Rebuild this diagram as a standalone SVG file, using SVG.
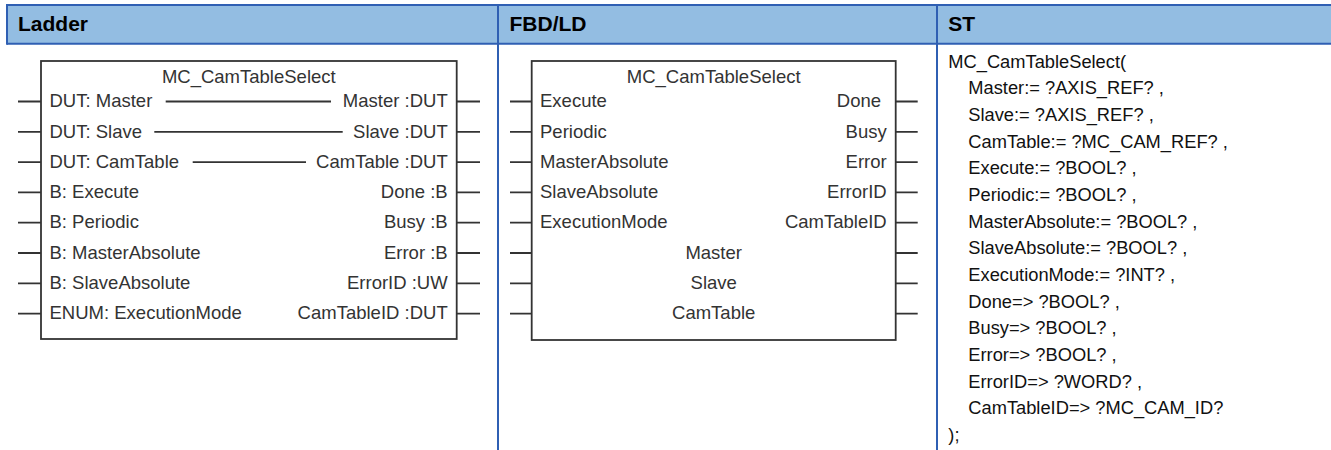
<svg xmlns="http://www.w3.org/2000/svg" width="1331" height="450" viewBox="0 0 1331 450">
<style>
.hdr{fill:#93bde2}
.bl{stroke:#2f5fb3;stroke-width:2;fill:none}
.ht{font-family:"Liberation Sans",Arial,sans-serif;font-weight:bold;font-size:21px;fill:#000}
.box{fill:#fff;stroke:#333;stroke-width:1.8}
.ln{stroke:#333;stroke-width:1.8;fill:none}
.t{font-family:"Liberation Sans",Arial,sans-serif;font-size:18.5px;fill:#333}
.r{text-anchor:end}
.c{text-anchor:middle}
.st{font-family:"Liberation Sans",Arial,sans-serif;font-size:18.3px;fill:#111}
</style>
<rect width="1331" height="450" fill="#fff"/>
<g id="table">
<rect class="hdr" x="7" y="5" width="1324" height="38.7"/>
<line class="bl" x1="7" y1="5" x2="1331" y2="5"/>
<line class="bl" x1="7" y1="43.7" x2="1331" y2="43.7"/>
<line class="bl" x1="7" y1="4" x2="7" y2="44.7"/>
<line class="bl" x1="498" y1="4" x2="498" y2="450"/>
<line class="bl" x1="937" y1="4" x2="937" y2="450"/>
<text class="ht" x="18" y="30.5">Ladder</text>
<text class="ht" x="509.5" y="30.5">FBD/LD</text>
<text class="ht" x="948.3" y="30.5">ST</text>
</g>
<g id="ladder-block">
<rect class="box" x="41" y="61" width="415.7" height="278"/>
<text class="t c" x="248.8" y="83">MC_CamTableSelect</text>
<text class="t" x="49.5" y="107.2">DUT: Master</text>
<text class="t" x="49.5" y="137.5">DUT: Slave</text>
<text class="t" x="49.5" y="167.8">DUT: CamTable</text>
<text class="t" x="49.5" y="198.1">B: Execute</text>
<text class="t" x="49.5" y="228.4">B: Periodic</text>
<text class="t" x="49.5" y="258.7">B: MasterAbsolute</text>
<text class="t" x="49.5" y="289">B: SlaveAbsolute</text>
<text class="t" x="49.5" y="319.3">ENUM: ExecutionMode</text>
<text class="t r" x="447.7" y="107.2">Master :DUT</text>
<text class="t r" x="447.7" y="137.5">Slave :DUT</text>
<text class="t r" x="447.7" y="167.8">CamTable :DUT</text>
<text class="t r" x="447.7" y="198.1">Done :B</text>
<text class="t r" x="447.7" y="228.4">Busy :B</text>
<text class="t r" x="447.7" y="258.7">Error :B</text>
<text class="t r" x="447.7" y="289">ErrorID :UW</text>
<text class="t r" x="447.7" y="319.3">CamTableID :DUT</text>
</g>
<g id="fbd-block">
<rect class="box" x="531.7" y="61" width="364" height="279"/>
<text class="t c" x="713.7" y="83">MC_CamTableSelect</text>
<text class="t" x="540" y="107.2">Execute</text>
<text class="t" x="540" y="137.5">Periodic</text>
<text class="t" x="540" y="167.8">MasterAbsolute</text>
<text class="t" x="540" y="198.1">SlaveAbsolute</text>
<text class="t" x="540" y="228.4">ExecutionMode</text>
<text class="t c" x="713.7" y="258.7">Master</text>
<text class="t c" x="713.7" y="289">Slave</text>
<text class="t c" x="713.7" y="319.3">CamTable</text>
<text class="t r" x="881" y="107.2">Done</text>
<text class="t r" x="886.7" y="137.5">Busy</text>
<text class="t r" x="886.7" y="167.8">Error</text>
<text class="t r" x="886.7" y="198.1">ErrorID</text>
<text class="t r" x="886.7" y="228.4">CamTableID</text>
</g>
<g id="st-code">
<text class="st" x="948.3" y="67.6">MC_CamTableSelect(</text>
<text class="st" x="968.3" y="94.3">Master:= ?AXIS_REF? ,</text>
<text class="st" x="968.3" y="120.9">Slave:= ?AXIS_REF? ,</text>
<text class="st" x="968.3" y="147.6">CamTable:= ?MC_CAM_REF? ,</text>
<text class="st" x="968.3" y="174.3">Execute:= ?BOOL? ,</text>
<text class="st" x="968.3" y="200.9">Periodic:= ?BOOL? ,</text>
<text class="st" x="968.3" y="227.6">MasterAbsolute:= ?BOOL? ,</text>
<text class="st" x="968.3" y="254.3">SlaveAbsolute:= ?BOOL? ,</text>
<text class="st" x="968.3" y="280.9">ExecutionMode:= ?INT? ,</text>
<text class="st" x="968.3" y="307.6">Done=&gt; ?BOOL? ,</text>
<text class="st" x="968.3" y="334.3">Busy=&gt; ?BOOL? ,</text>
<text class="st" x="968.3" y="360.9">Error=&gt; ?BOOL? ,</text>
<text class="st" x="968.3" y="387.6">ErrorID=&gt; ?WORD? ,</text>
<text class="st" x="968.3" y="414.3">CamTableID=&gt; ?MC_CAM_ID?</text>
<text class="st" x="948.3" y="440.9">);</text>
</g>
<g id="connectors">
<path class="ln" d="M18 101.5H41M18 131.8H41M18 162.1H41M18 192.4H41M18 222.7H41M18 253H41M18 283.3H41M18 313.6H41"/>
<path class="ln" d="M456.7 101.5H480M456.7 131.8H480M456.7 162.1H480M456.7 192.4H480M456.7 222.7H480M456.7 253H480M456.7 283.3H480M456.7 313.6H480"/>
<path class="ln" d="M165.7 101.5H331M154.3 131.8H342.7M192.7 162.1H306"/>
<path class="ln" d="M510 101.5H531.7M510 131.8H531.7M510 162.1H531.7M510 192.4H531.7M510 222.7H531.7M510 253H531.7M510 283.3H531.7M510 313.6H531.7"/>
<path class="ln" d="M895.7 101.5H917.7M895.7 131.8H917.7M895.7 162.1H917.7M895.7 192.4H917.7M895.7 222.7H917.7M895.7 253H917.7M895.7 283.3H917.7M895.7 313.6H917.7"/>
</g>
</svg>
